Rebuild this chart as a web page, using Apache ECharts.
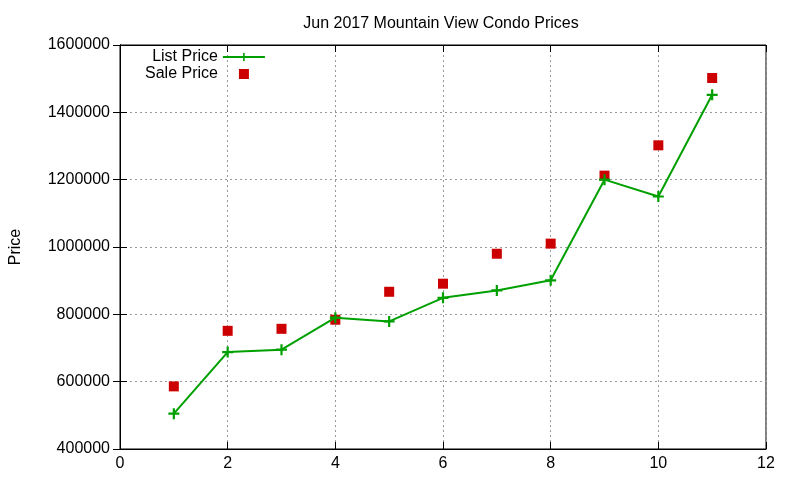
<!DOCTYPE html>
<html><head><meta charset="utf-8">
<script src="https://cdn.jsdelivr.net/npm/echarts@6/dist/echarts.min.js"></script>
<style>html,body{margin:0;padding:0;background:#fff}#c{width:800px;height:480px}</style>
</head><body><div id="c"></div>
<script>
const months = [1,2,3,4,5,6,7,8,9,10,11];
const listPrice = [505000,688000,695000,790000,779000,849000,871000,901000,1200000,1150000,1452000];
const salePrice = [586000,751000,757000,784000,867000,891000,980000,1010000,1212000,1302000,1502000];
const xTicks = {min:0,max:12,interval:2};
const yTicks = {min:400000,max:1600000,interval:200000};

const FONT = '"Liberation Sans", Arial, sans-serif';
const cross = 'path://M4,0H6V4H10V6H6V10H4V6H0V4H4Z';
const chart = echarts.init(document.getElementById('c'));
const axisCommon = {
  axisLine:{show:true,lineStyle:{color:'#000',width:1}},
  axisTick:{show:true,inside:true,length:7,lineStyle:{color:'#000'}},
};
chart.setOption({
  animation:false,
  backgroundColor:'#fff',
  title:{text:'Jun 2017 Mountain View Condo Prices',left:436,top:11,textAlign:'center',
    textStyle:{fontFamily:FONT,fontSize:16,fontWeight:'normal',color:'#000'}},
  legend:{orient:'vertical',left:140,top:44,align:'right',itemGap:1,itemWidth:42,itemHeight:10,
    textStyle:{fontFamily:FONT,fontSize:16,color:'#000'},
    data:[{name:'List Price'},{name:'Sale Price',icon:'path://M0,0H10V10H0Z'}]},
  grid:{left:120,right:34,top:45,bottom:31,show:true,borderColor:'#000',borderWidth:1,
    containLabel:false,outerBoundsMode:'none'},
  xAxis:[
    Object.assign({type:'value',position:'bottom'},xTicks,axisCommon,{
      axisLabel:{fontFamily:FONT,fontSize:16,color:'#000',margin:7},
      splitLine:{show:true,lineStyle:{color:'#999',type:[2,3],width:1}}}),
    Object.assign({type:'value',position:'top'},xTicks,axisCommon,{
      axisLabel:{show:false},splitLine:{show:false}})
  ],
  yAxis:[
    Object.assign({type:'value',position:'left',name:'Price',nameLocation:'middle',nameGap:96,nameRotate:90,
      nameTextStyle:{fontFamily:FONT,fontSize:16,color:'#000'}},yTicks,axisCommon,{
      axisLabel:{fontFamily:FONT,fontSize:16,color:'#000',margin:10,formatter:v=>String(v)},
      splitLine:{show:true,lineStyle:{color:'#999',type:[2,3],width:1}}}),
    Object.assign({type:'value',position:'right'},yTicks,axisCommon,{
      axisLabel:{show:false},splitLine:{show:false}})
  ],
  series:[
    {name:'List Price',type:'line',data:months.map((m,i)=>[m,listPrice[i]]),
      symbol:cross,symbolSize:11,showSymbol:true,
      lineStyle:{color:'#00a000',width:2},itemStyle:{color:'#00a000'},z:3},
    {name:'Sale Price',type:'scatter',data:months.map((m,i)=>[m,salePrice[i]]),
      symbol:'rect',symbolSize:10,itemStyle:{color:'#cc0000',opacity:1},z:2}
  ]
});
</script></body></html>
